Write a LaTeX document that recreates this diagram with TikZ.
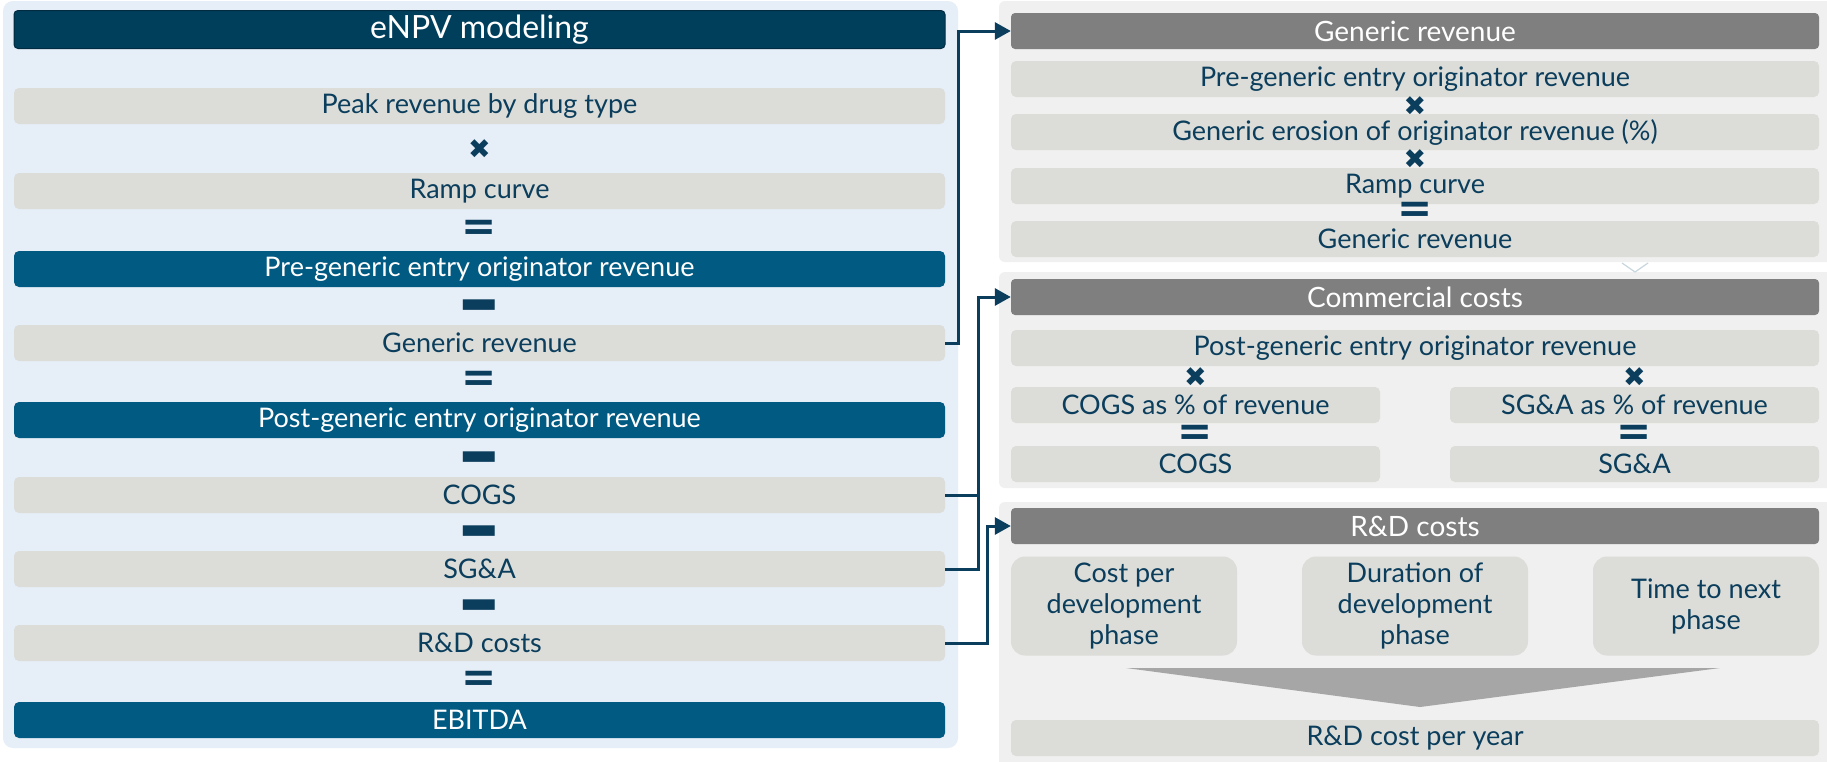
\documentclass[tikz,border=0pt]{standalone}
\usepackage{fontspec}
\setmainfont{Lato}
\newfontfamily\symfont{DejaVu Sans}
\usetikzlibrary{arrows.meta}
\definecolor{panelblue}{HTML}{E6EEF8}
\definecolor{panelgrey}{HTML}{F0F0F0}
\definecolor{boxgrey}{HTML}{DCDDD8}
\definecolor{navy}{HTML}{003F5C}
\definecolor{navyline}{HTML}{002B40}
\definecolor{midblue}{HTML}{005A82}
\definecolor{headgrey}{HTML}{7F7F7F}
\definecolor{inkblue}{HTML}{0B3D5C}
\definecolor{wedgegrey}{HTML}{A6A6A6}
\definecolor{faintv}{HTML}{C8D7DE}
\begin{document}
\begin{tikzpicture}
  [x=1pt, y=-1pt,
   conn/.style={draw=inkblue, line width=3pt},
   tip/.style={-{Triangle[length=16pt,width=17pt]}},
   grey box/.style={rectangle, fill=boxgrey, rounded corners=5pt, text=inkblue, inner sep=0pt,
     minimum height=36pt, font=\fontsize{27}{31}\selectfont},
   left box/.style={grey box, minimum width=931pt},
   right box/.style={grey box, minimum width=808pt},
   half box/.style={grey box, minimum width=369pt},
   blue box/.style={left box, fill=midblue, text=white},
   head box/.style={rectangle, fill=headgrey, rounded corners=4pt, text=white, inner sep=0pt,
     minimum width=808pt, minimum height=36pt, font=\fontsize{28}{34}\selectfont},
   phase box/.style={grey box, minimum width=226pt, minimum height=99pt, rounded corners=14pt, align=center},
   times/.style={text=inkblue, inner sep=0pt, font=\symfont\fontsize{27}{27}\selectfont},
   equals/.style={text=inkblue, inner sep=0pt, font=\symfont\bfseries\fontsize{42}{42}\selectfont},
   minus/.style={text=inkblue, inner sep=0pt, font=\symfont\fontsize{38}{38}\selectfont}]
  \clip (0,0) rectangle (1827,761);
  \fill[white] (0,0) rectangle (1827,761);

  % panels
  \fill[panelblue, rounded corners=10pt] (3,1) rectangle (958,748);
  \fill[panelgrey, rounded corners=6pt] (999,1) rectangle (1840,262);
  \fill[panelgrey, rounded corners=6pt] (999,272) rectangle (1840,488);
  \fill[panelgrey, rounded corners=6pt] (999,502) rectangle (1840,780);
  \draw[faintv, line width=1.2pt] (1622,263) -- (1635,272) -- (1648,263);

  % eNPV column
  \node[rectangle, fill=navy, draw=navyline, line width=1pt, rounded corners=4pt, text=white, inner sep=0pt,
    minimum width=931pt, minimum height=38pt, font=\fontsize{32}{36}\selectfont] (title) at (479.5,29.5) {eNPV modeling};
  \node[left box] (peak) at (479.5,106) {Peak revenue by drug type};
  \node[times] (t1) at (479.5,149) {✖};
  \node[left box] (ramp) at (479.5,191) {Ramp curve};
  \node[equals] (e1) at (479.5,230) {=};
  \node[blue box] (pre) at (479.5,269) {Pre-generic entry originator revenue};
  \node[minus] (m1) at (479.5,306) {\scalebox{1.1}[0.75]{▬}};
  \node[left box] (gen) at (479.5,343) {Generic revenue};
  \node[equals] (e2) at (479.5,381) {=};
  \node[blue box] (post) at (479.5,420) {Post-generic entry originator revenue};
  \node[minus] (m2) at (479.5,458) {\scalebox{1.1}[0.75]{▬}};
  \node[left box] (cogs) at (479.5,495) {COGS};
  \node[minus] (m3) at (479.5,532) {\scalebox{1.1}[0.75]{▬}};
  \node[left box] (sga) at (479.5,569) {SG\&A};
  \node[minus] (m4) at (479.5,606) {\scalebox{1.1}[0.75]{▬}};
  \node[left box] (rnd) at (479.5,643) {R\&D costs};
  \node[equals] (e3) at (479.5,681) {=};
  \node[blue box] (ebitda) at (479.5,720) {EBITDA};

  % generic revenue
  \node[head box] (grhead) at (1415,31) {Generic revenue};
  \node[right box] (grpre) at (1415,79) {Pre-generic entry originator revenue};
  \node[times] (t2) at (1415,106) {✖};
  \node[right box] (grero) at (1415,132) {Generic erosion of originator revenue (\%)};
  \node[times] (t3) at (1415,159) {✖};
  \node[right box] (grramp) at (1415,186) {Ramp curve};
  \node[equals] (e4) at (1415,212) {=};
  \node[right box] (grout) at (1415,239) {Generic revenue};

  % commercial costs
  \node[head box] (cchead) at (1415,297) {Commercial costs};
  \node[right box] (ccpost) at (1415,348) {Post-generic entry originator revenue};
  \node[times] (t4) at (1195.5,377) {✖};
  \node[times] (t5) at (1634.5,377) {✖};
  \node[half box] (cogspct) at (1195.5,405) {COGS as \% of revenue};
  \node[half box] (sgapct) at (1634.5,405) {SG\&A as \% of revenue};
  \node[equals] (e5) at (1195.5,435) {=};
  \node[equals] (e6) at (1634.5,435) {=};
  \node[half box] (cogsout) at (1195.5,464) {COGS};
  \node[half box] (sgaout) at (1634.5,464) {SG\&A};

  % R&D costs
  \node[head box] (rdhead) at (1415,526) {R\&D costs};
  \node[phase box] (costph) at (1124,606) {Cost per\\development\\phase};
  \node[phase box] (durph) at (1415,606) {Duration of\\development\\phase};
  \node[phase box] (nextph) at (1706,606) {Time to next\\phase};
  \fill[wedgegrey] (1126,668) -- (1720,668) -- (1420,707) -- cycle;
  \node[right box] (rdyear) at (1415,738) {R\&D cost per year};

  % links
  \draw[conn, tip] (gen.east) -- ++(13,0) |- (grhead.west);
  \draw[conn, tip] (sga.east) -- ++(33,0) |- (cchead.west);
  \draw[conn] (cogs.east) -- ++(33,0);
  \draw[conn, tip] (rnd.east) -- ++(42,0) |- (rdhead.west);
\end{tikzpicture}
\end{document}
